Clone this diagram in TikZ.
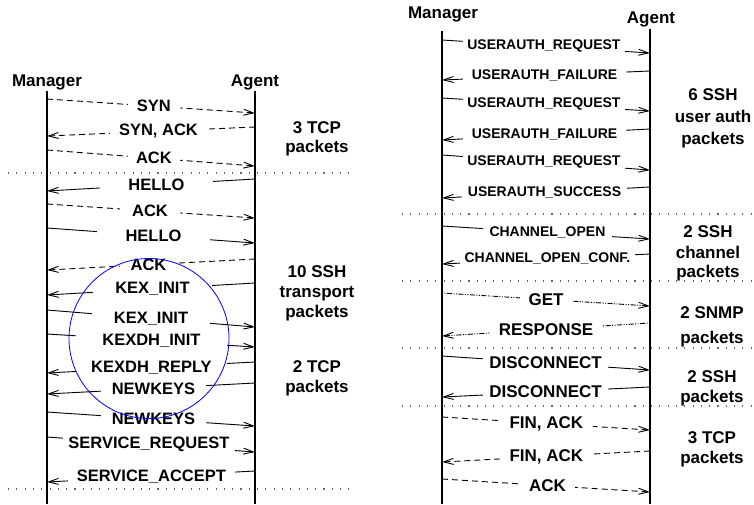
\documentclass[tikz,border=0pt]{standalone}
\usepackage{fontspec}
\setmainfont{Liberation Sans}
\usetikzlibrary{arrows.meta}
\begin{document}
\begin{tikzpicture}[x=1pt,y=-1pt,
  lifeline/.style={line width=1.1pt},
  divider/.style={line width=1.1pt, black!60, dash pattern=on 1.1pt off 7.2pt},
  msg/.style={line width=0.9pt, -{Straight Barb[length=10pt,width=6pt]}},
  dsh/.style={dash pattern=on 6pt off 4pt},
  snmp/.style={dash pattern=on 1pt off 1.5pt on 1pt off 1.5pt on 5pt off 1.5pt},
  lbl/.style={fill=white, inner xsep=0pt, inner ysep=2pt, font=\bfseries\fontsize{16.5}{19}\selectfont},
  slbl/.style={lbl, font=\bfseries\fontsize{14}{16}\selectfont},
  blbl/.style={lbl, font=\bfseries\fontsize{17}{19}\selectfont},
  actor/.style={anchor=base, inner sep=0pt, font=\bfseries\fontsize{17}{20}\selectfont},
  grouplbl/.style={anchor=base, inner sep=0pt, font=\bfseries\fontsize{17}{20}\selectfont},
]
\useasboundingbox (0,0) rectangle (754,504);

% ---------------- left session: connection set-up ----------------
\node[actor] (mgrL) at (47,86) {Manager};
\node[actor] (agtL) at (255,86) {Agent};
\coordinate (mL0) at (47,91);  \coordinate (mL1) at (47,504);
\coordinate (aL0) at (255,91); \coordinate (aL1) at (255,504);
\draw[lifeline] (mL0) -- (mL1);
\draw[lifeline] (aL0) -- (aL1);

\coordinate (dL1a) at (8,173); \coordinate (dL1b) at (356,173);
\coordinate (dL2a) at (8,489); \coordinate (dL2b) at (356,489);
\draw[divider] (dL1a) -- (dL1b);
\draw[divider] (dL2a) -- (dL2b);

\coordinate (p1) at (47,99);   \coordinate (q1) at (255,113);
\draw[msg,dsh] (p1) -- node[lbl,minimum width=52,pos=.514] (l1) {SYN} (q1);
\coordinate (p2) at (255,127); \coordinate (q2) at (47,136);
\draw[msg,dsh] (p2) -- node[lbl,minimum width=97,pos=.464] (l2) {SYN, ACK} (q2);
\coordinate (p3) at (47,150);  \coordinate (q3) at (255,166);
\draw[msg,dsh] (p3) -- node[lbl,minimum width=52,pos=.514] (l3) {ACK} (q3);
\coordinate (p4) at (255,179); \coordinate (q4) at (47,191);
\draw[msg] (p4) -- node[lbl,minimum width=113,pos=.474] (l4) {HELLO} (q4);
\coordinate (p5) at (47,204);  \coordinate (q5) at (255,218);
\draw[msg,dsh] (p5) -- node[lbl,minimum width=60,pos=.495] (l5) {ACK} (q5);
\coordinate (p6) at (47,228);  \coordinate (q6) at (255,243);
\draw[msg] (p6) -- node[lbl,minimum width=113,pos=.512] (l6) {HELLO} (q6);
\coordinate (p7) at (255,259); \coordinate (q7) at (47,270);
\draw[msg,dsh] (p7) -- node[lbl,minimum width=57,pos=.512] (l7) {ACK} (q7);
\coordinate (p8) at (255,283); \coordinate (q8) at (47,295);
\draw[msg] (p8) -- node[lbl,minimum width=119,pos=.493] (l8) {KEX\_INIT} (q8);
\coordinate (p9) at (47,310);  \coordinate (q9) at (255,327);
\draw[msg] (p9) -- node[lbl,minimum width=118,pos=.5] (l9) {KEX\_INIT} (q9);
\coordinate (p10) at (47,334); \coordinate (q10) at (255,347);
\draw[msg] (p10) -- node[lbl,minimum width=151,pos=.502] (l10) {KEXDH\_INIT} (q10);
\coordinate (p11) at (255,362); \coordinate (q11) at (47,373);
\draw[msg] (p11) -- node[lbl,minimum width=151,pos=.498] (l11) {KEXDH\_REPLY} (q11);
\coordinate (p12) at (255,383); \coordinate (q12) at (47,394);
\draw[msg] (p12) -- node[lbl,minimum width=105,pos=.488] (l12) {NEWKEYS} (q12);
\coordinate (p13) at (47,412); \coordinate (q13) at (255,426);
\draw[msg] (p13) -- node[lbl,minimum width=105,pos=.512] (l13) {NEWKEYS} (q13);
\coordinate (p14) at (47,437); \coordinate (q14) at (255,452);
\draw[msg] (p14) -- node[lbl,minimum width=172,pos=.490] (l14) {SERVICE\_REQUEST} (q14);
\coordinate (p15) at (255,471); \coordinate (q15) at (47,482);
\draw[msg] (p15) -- node[lbl,minimum width=167,pos=.498] (l15) {SERVICE\_ACCEPT} (q15);

\node[grouplbl] (gA1) at (317,133) {3 TCP};
\node[grouplbl] (gA2) at (317,152) {packets};
\node[grouplbl] (gB1) at (317,277) {10 SSH};
\node[grouplbl] (gB2) at (317,297) {transport};
\node[grouplbl] (gB3) at (317,317) {packets};
\node[grouplbl] (gC1) at (317,372) {2 TCP};
\node[grouplbl] (gC2) at (317,392) {packets};

% key exchange highlighted
\node[circle, draw=blue, line width=0.8pt, minimum size=160pt, inner sep=0pt] (kex) at (149,338.5) {};

% ---------------- right session: authentication and teardown ----------------
\node[actor] (mgrR) at (443,18) {Manager};
\node[actor] (agtR) at (651,23) {Agent};
\coordinate (mR0) at (442,31); \coordinate (mR1) at (442,504);
\coordinate (aR0) at (650,29); \coordinate (aR1) at (650,504);
\draw[lifeline] (mR0) -- (mR1);
\draw[lifeline] (aR0) -- (aR1);

\coordinate (dR1a) at (402,214); \coordinate (dR1b) at (754,214);
\coordinate (dR2a) at (402,281); \coordinate (dR2b) at (754,281);
\coordinate (dR3a) at (402,348); \coordinate (dR3b) at (754,348);
\coordinate (dR4a) at (402,406); \coordinate (dR4b) at (754,406);
\draw[divider] (dR1a) -- (dR1b);
\draw[divider] (dR2a) -- (dR2b);
\draw[divider] (dR3a) -- (dR3b);
\draw[divider] (dR4a) -- (dR4b);

\coordinate (r1) at (442,40);  \coordinate (s1) at (650,53);
\draw[msg] (r1) -- node[slbl,minimum width=162,pos=.490] (k1) {USERAUTH\_REQUEST} (s1);
\coordinate (r2) at (650,71);  \coordinate (s2) at (442,80);
\draw[msg] (r2) -- node[slbl,minimum width=163,pos=.507] (k2) {USERAUTH\_FAILURE} (s2);
\coordinate (r3) at (442,98);  \coordinate (s3) at (650,111);
\draw[msg] (r3) -- node[slbl,minimum width=162,pos=.490] (k3) {USERAUTH\_REQUEST} (s3);
\coordinate (r4) at (650,129); \coordinate (s4) at (442,140);
\draw[msg] (r4) -- node[slbl,minimum width=163,pos=.507] (k4) {USERAUTH\_FAILURE} (s4);
\coordinate (r5) at (442,155); \coordinate (s5) at (650,170);
\draw[msg] (r5) -- node[slbl,minimum width=162,pos=.490] (k5) {USERAUTH\_REQUEST} (s5);
\coordinate (r6) at (650,187); \coordinate (s6) at (442,198);
\draw[msg] (r6) -- node[slbl,minimum width=165,pos=.507] (k6) {USERAUTH\_SUCCESS} (s6);
\coordinate (r7) at (442,226); \coordinate (s7) at (650,239);
\draw[msg] (r7) -- node[slbl,minimum width=129,pos=.507] (k7) {CHANNEL\_OPEN} (s7);
\coordinate (r8) at (650,254); \coordinate (s8) at (442,264);
\draw[msg] (r8) -- node[slbl,minimum width=175,pos=.493] (k8) {CHANNEL\_OPEN\_CONF.} (s8);
\coordinate (r9) at (442,293); \coordinate (s9) at (650,306);
\draw[msg,snmp] (r9) -- node[blbl,minimum width=52,pos=.5] (k9) {GET} (s9);
\coordinate (r10) at (650,323); \coordinate (s10) at (442,336);
\draw[msg,snmp] (r10) -- node[blbl,minimum width=112,pos=.5] (k10) {RESPONSE} (s10);
\coordinate (r11) at (442,356); \coordinate (s11) at (650,370);
\draw[msg] (r11) -- node[blbl,minimum width=125,pos=.498] (k11) {DISCONNECT} (s11);
\coordinate (r12) at (650,387); \coordinate (s12) at (442,397);
\draw[msg] (r12) -- node[blbl,minimum width=125,pos=.502] (k12) {DISCONNECT} (s12);
\coordinate (r13) at (442,417); \coordinate (s13) at (650,430);
\draw[msg,dsh] (r13) -- node[blbl,minimum width=93,pos=.502] (k13) {FIN, ACK} (s13);
\coordinate (r14) at (650,451); \coordinate (s14) at (442,462);
\draw[msg,dsh] (r14) -- node[blbl,minimum width=93,pos=.498] (k14) {FIN, ACK} (s14);
\coordinate (r15) at (442,479); \coordinate (s15) at (650,492);
\draw[msg,dsh] (r15) -- node[blbl,minimum width=55,pos=.507] (k15) {ACK} (s15);

\node[grouplbl] (hA1) at (713,100) {6 SSH};
\node[grouplbl] (hA2) at (713,122) {user auth};
\node[grouplbl] (hA3) at (713,144) {packets};
\node[grouplbl] (hB1) at (708,237) {2 SSH};
\node[grouplbl] (hB2) at (708,258) {channel};
\node[grouplbl] (hB3) at (708,277) {packets};
\node[grouplbl] (hC1) at (712,318) {2 SNMP};
\node[grouplbl] (hC2) at (712,343) {packets};
\node[grouplbl] (hD1) at (712,382) {2 SSH};
\node[grouplbl] (hD2) at (712,402) {packets};
\node[grouplbl] (hE1) at (712,443) {3 TCP};
\node[grouplbl] (hE2) at (712,463) {packets};
\end{tikzpicture}
\end{document}
